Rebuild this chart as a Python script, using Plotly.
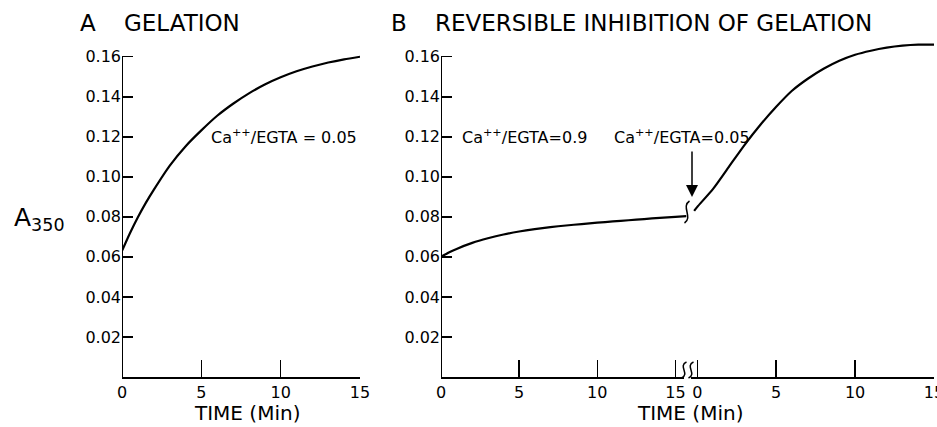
import plotly.graph_objects as go

# ---------------- data ----------------
# Panel A: gelation, Ca++/EGTA = 0.05
time_a = [0, 0.5, 1, 1.5, 2, 3, 4, 5, 6, 7, 8, 9, 10, 11, 12, 13, 14, 15]
a350_a = [0.063, 0.0718, 0.0798, 0.0870, 0.0935, 0.1055, 0.1152, 0.1232, 0.1305,
          0.1365, 0.1417, 0.1461, 0.1497, 0.1527, 0.1551, 0.1571, 0.1587, 0.1600]

# Panel B, first period: Ca++/EGTA = 0.9
time_b1 = [0, 0.5, 1, 2, 3, 4, 5, 6, 7, 8, 9, 10, 11, 12, 13, 14, 15, 15.7]
a350_b1 = [0.0600, 0.0622, 0.0640, 0.0670, 0.0693, 0.0712, 0.0727, 0.0739, 0.0749,
           0.0757, 0.0764, 0.0771, 0.0777, 0.0783, 0.0789, 0.0795, 0.0800, 0.0804]

# Panel B, second period: Ca++/EGTA = 0.05
time_b2 = [-0.2, 0, 1, 2, 3, 4, 5, 6, 7, 8, 9, 10, 11, 12, 13, 14, 15]
a350_b2 = [0.083, 0.085, 0.094, 0.105, 0.116, 0.126, 0.135, 0.143, 0.149,
           0.154, 0.158, 0.161, 0.163, 0.1645, 0.1655, 0.166, 0.166]

x_ticks = [0, 5, 10, 15]
y_ticks = [0.02, 0.04, 0.06, 0.08, 0.10, 0.12, 0.14, 0.16]
y_tick_text = ["0.02", "0.04", "0.06", "0.08", "0.10", "0.12", "0.14", "0.16"]

# ---------------- layout helpers ----------------
W, H = 937, 427
FONT = "DejaVu Sans"


def px(x):
    return x / W


def py(y):
    return 1 - y / H


Y0_PX, Y_TOP_PX = 377.0, 36.7   # pixel rows of 0 and 0.17
ydom = [py(Y0_PX), py(Y_TOP_PX)]

fig = go.Figure()
line = dict(color="black", width=2.2, shape="spline", smoothing=0.6)
fig.add_trace(go.Scatter(x=time_a, y=a350_a, mode="lines", line=line,
                         xaxis="x", yaxis="y", hoverinfo="skip"))
fig.add_trace(go.Scatter(x=time_b1, y=a350_b1, mode="lines", line=line,
                         xaxis="x2", yaxis="y2", hoverinfo="skip"))
fig.add_trace(go.Scatter(x=time_b2, y=a350_b2, mode="lines", line=line,
                         xaxis="x3", yaxis="y2", hoverinfo="skip"))

xcommon = dict(showline=True, linecolor="black", linewidth=2,
               ticks="inside", ticklen=17, tickwidth=1.5, tickcolor="black",
               tickvals=x_ticks, ticktext=[str(v) for v in x_ticks],
               tickfont=dict(family=FONT, size=16, color="black"),
               ticklabeloverflow="allow",
               showgrid=False, zeroline=False, automargin=False, fixedrange=True)
ycommon = dict(range=[0, 0.17], domain=ydom, showline=False,
               ticks="inside", ticklen=11, tickwidth=1.5, tickcolor="black",
               tickvals=y_ticks, ticktext=y_tick_text,
               tickfont=dict(family=FONT, size=16, color="black"),
               showgrid=False, zeroline=False, automargin=False, fixedrange=True)

fig.update_layout(
    template="none",
    width=W, height=H,
    margin=dict(l=0, r=0, t=0, b=0),
    paper_bgcolor="white", plot_bgcolor="rgba(0,0,0,0)",
    showlegend=False,
    xaxis=dict(xcommon, domain=[px(122), px(360)], range=[0, 15], anchor="y"),
    xaxis2=dict(xcommon, domain=[px(441), px(691)], range=[0, 16], anchor="y2"),
    xaxis3=dict(xcommon, domain=[px(691), px(934)], range=[-0.4, 15], anchor="y2"),
    yaxis=dict(ycommon, anchor="x"),
    yaxis2=dict(ycommon, anchor="x2"),
)

shapes = []
# y-axis lines (stop at 0.16 as in the reference)
for xr, yr in (("x", "y"), ("x2", "y2")):
    shapes.append(dict(type="line", xref=xr, yref=yr, x0=0, x1=0, y0=0, y1=0.16,
                       line=dict(color="black", width=2)))


def s_path(cx, cy, h, w):
    """small S-shaped break mark in paper coords, centred on pixel (cx, cy)"""
    x0, y0 = cx - w, cy + h / 2
    x1, y1 = cx + w, cy - h / 2
    c1x, c1y = cx + 2.5 * w, cy + h / 4
    c2x, c2y = cx - 2.5 * w, cy - h / 4
    return (f"M {px(x0)},{py(y0)} C {px(c1x)},{py(c1y)} {px(c2x)},{py(c2y)} "
            f"{px(x1)},{py(y1)}")


# white gap on the x axis at the break
shapes.append(dict(type="rect", xref="paper", yref="paper",
                   x0=px(684), x1=px(691), y0=py(380), y1=py(374),
                   fillcolor="white", line=dict(width=0)))
for cx in (684, 691):
    shapes.append(dict(type="path", xref="paper", yref="paper",
                       path=s_path(cx, 370, 16, 2.5),
                       line=dict(color="black", width=1.5)))
# break mark on the curve
shapes.append(dict(type="path", xref="paper", yref="paper",
                   path=s_path(687, 212, 22, 2.5),
                   line=dict(color="black", width=1.5)))
fig.update_layout(shapes=shapes)

ann = []


def txt(text, x, y, size, xanchor="left", yanchor="middle"):
    ann.append(dict(text=text, x=px(x), y=py(y), xref="paper", yref="paper",
                    xanchor=xanchor, yanchor=yanchor, showarrow=False,
                    font=dict(family=FONT, size=size, color="black")))


txt("A", 78, 23, 23)
txt("GELATION", 122, 23, 23)
txt("B", 389, 23, 23)
txt("REVERSIBLE INHIBITION OF GELATION", 433, 23, 23)
txt("A<sub>350</sub>", 12, 219, 25)
txt("TIME (Min)", 247, 413, 20, xanchor="center")
txt("TIME (Min)", 690, 413, 20, xanchor="center")
txt("Ca<sup>++</sup>/EGTA = 0.05", 284, 136, 16, xanchor="center")
txt("Ca<sup>++</sup>/EGTA=0.9", 524, 136, 16, xanchor="center")
txt("Ca<sup>++</sup>/EGTA=0.05", 682, 136, 16, xanchor="center")

# arrow marking the change of Ca++/EGTA
ann.append(dict(x=px(692), y=py(197), xref="paper", yref="paper",
                ax=0, ay=-47, axref="pixel", ayref="pixel",
                showarrow=True, arrowhead=2, arrowsize=1.6, arrowwidth=1.5,
                arrowcolor="black", text=""))
fig.update_layout(annotations=ann)

fig.write_html("out.html",
               config={"displayModeBar": False, "staticPlot": True},
               post_script="document.body.style.margin='0px';"
                           "document.body.style.overflow='hidden';")
